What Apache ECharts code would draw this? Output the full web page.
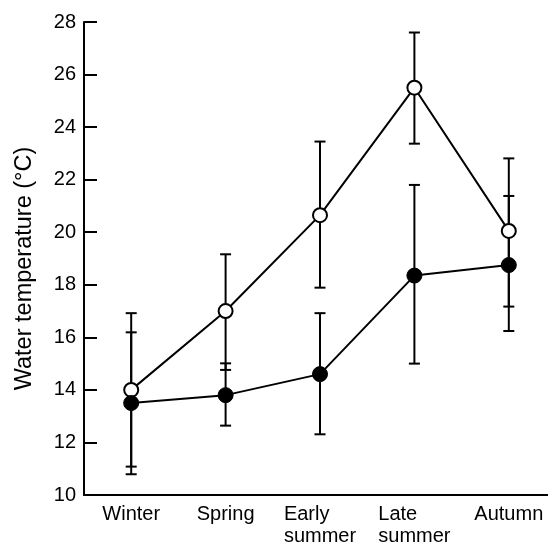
<!DOCTYPE html>
<html lang="en">
<head>
    <meta charset="UTF-8">
    <title>Water temperature</title>
    <script src="https://cdn.jsdelivr.net/npm/echarts@6/dist/echarts.min.js" type="text/javascript"></script>
    <style>
        html, body { margin: 0; padding: 0; background: #fff; }
    </style>
</head>
<body>
<div id="main" style="width: 548px; height: 543px;"></div>
<script>
    // seasons on the x axis
    var seasons = ['Winter', 'Spring', 'Early\nsummer', 'Late\nsummer', 'Autumn'];
    var yTicks = [10, 12, 14, 16, 18, 20, 22, 24, 26, 28];

    // open circles
    var openMean = [14.0, 17.0, 20.65, 25.5, 20.05];
    var openLow  = [11.08, 14.76, 17.89, 23.37, 17.17];
    var openHigh = [16.92, 19.16, 23.45, 27.6, 22.81];

    // filled circles
    var filledMean = [13.5, 13.8, 14.6, 18.35, 18.75];
    var filledLow  = [10.79, 12.64, 12.31, 15.0, 16.24];
    var filledHigh = [16.19, 15.01, 16.92, 21.8, 21.38];

    var font = 'Liberation Sans, Arial, Helvetica, sans-serif';

    function barData(low, high) {
        var out = [];
        for (var i = 0; i < low.length; i++) {
            out.push([i, low[i], high[i]]);
        }
        return out;
    }

    // vertical error bar with little caps
    function renderBar(params, api) {
        var x = api.value(0);
        var lo = api.coord([x, api.value(1)]);
        var hi = api.coord([x, api.value(2)]);
        var w = 5.5;
        var st = { stroke: '#000', lineWidth: 2 };
        return {
            type: 'group',
            children: [
                { type: 'line', shape: { x1: lo[0], y1: lo[1], x2: hi[0], y2: hi[1] }, style: st },
                { type: 'line', shape: { x1: lo[0] - w, y1: lo[1], x2: lo[0] + w, y2: lo[1] }, style: st },
                { type: 'line', shape: { x1: hi[0] - w, y1: hi[1], x2: hi[0] + w, y2: hi[1] }, style: st }
            ]
        };
    }

    var myChart = echarts.init(document.getElementById('main'));

    var option = {
        animation: false,
        backgroundColor: '#fff',
        grid: {
            left: 84,
            right: -8,
            top: 22,
            bottom: 48,
            containLabel: false,
            outerBoundsMode: 'none'
        },
        xAxis: {
            type: 'category',
            data: seasons,
            boundaryGap: true,
            axisLine: { lineStyle: { color: '#000', width: 2 } },
            axisTick: { inside: true, length: 13, lineStyle: { color: '#000', width: 2 } },
            axisLabel: {
                interval: 0,
                hideOverlap: false,
                color: '#000',
                fontSize: 20,
                fontFamily: font,
                margin: 8,
                lineHeight: 22,
                formatter: function (v) {
                    return v.split('\n').map(function (s) { return '{l|' + s + '}'; }).join('\n');
                },
                rich: {
                    l: { align: 'left', fontSize: 20, fontFamily: font, color: '#000', lineHeight: 22 }
                }
            },
            splitLine: { show: false }
        },
        yAxis: {
            type: 'value',
            min: yTicks[0],
            max: yTicks[yTicks.length - 1],
            interval: 2,
            name: 'Water temperature (°C)',
            nameLocation: 'middle',
            nameGap: 47,
            nameTextStyle: {
                color: '#000',
                fontSize: 23.5,
                fontFamily: font,
                padding: [0, 20, 0, 0]
            },
            axisLine: { show: true, lineStyle: { color: '#000', width: 2 } },
            axisTick: { show: true, inside: true, length: 13, lineStyle: { color: '#000', width: 2 } },
            axisLabel: {
                color: '#000',
                fontSize: 20,
                fontFamily: font,
                margin: 8
            },
            splitLine: { show: false }
        },
        series: [
            {
                type: 'custom',
                renderItem: renderBar,
                data: barData(openLow, openHigh),
                z: 1
            },
            {
                type: 'custom',
                renderItem: renderBar,
                data: barData(filledLow, filledHigh),
                z: 1
            },
            {
                name: 'open',
                type: 'line',
                data: openMean,
                symbol: 'circle',
                symbolSize: 14,
                showAllSymbol: true,
                lineStyle: { color: '#000', width: 2 },
                itemStyle: { color: '#fff', borderColor: '#000', borderWidth: 2 },
                z: 3
            },
            {
                name: 'filled',
                type: 'line',
                data: filledMean,
                symbol: 'circle',
                symbolSize: 15,
                showAllSymbol: true,
                lineStyle: { color: '#000', width: 2 },
                itemStyle: { color: '#000', borderColor: '#000', borderWidth: 1 },
                z: 3
            }
        ]
    };

    myChart.setOption(option);
</script>
</body>
</html>
